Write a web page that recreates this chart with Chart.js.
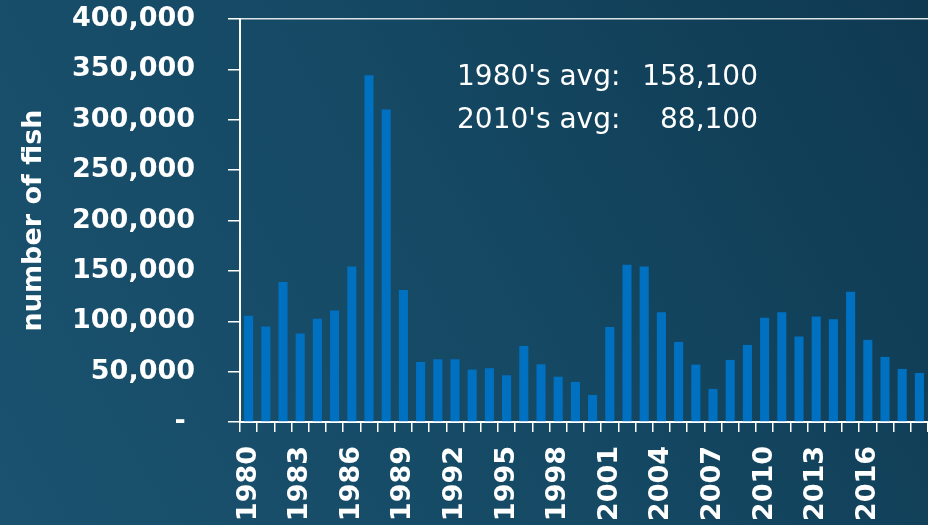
<!DOCTYPE html>
<html>
<head>
<meta charset="utf-8">
<script src="https://cdn.jsdelivr.net/npm/chart.js@4.4.0/dist/chart.umd.min.js"></script>
<style>
  html, body { margin: 0; padding: 0; background: #164a66; }
  canvas { display: block; }
</style>
</head>
<body>
<canvas id="myChart" width="928" height="525"></canvas>
<script>
const years = [
  "1980", "1981", "1982", "1983", "1984", "1985", "1986", "1987", "1988", "1989",
  "1990", "1991", "1992", "1993", "1994", "1995", "1996", "1997", "1998", "1999",
  "2000", "2001", "2002", "2003", "2004", "2005", "2006", "2007", "2008", "2009",
  "2010", "2011", "2012", "2013", "2014", "2015", "2016", "2017", "2018", "2019",
];
const fishCounts = [
  105400, 94700, 139000, 87800, 102400, 110600, 154400, 344200, 310100, 130900,
  59600, 62300, 62300, 52000, 53400, 46400, 75500, 57300, 45000, 39800,
  26800, 94400, 156000, 154400, 109000, 79500, 57000, 32800, 61600, 76500,
  103400, 109000, 84800, 104700, 102100, 129200, 81500, 64600, 52700, 48700,
];
// only these years get a label on the x axis
const labelYears = [
  "1980", "1983", "1986", "1989", "1992", "1995", "1998",
  "2001", "2004", "2007", "2010", "2013", "2016",
];
const avgLabels = ["1980's avg:", "2010's avg:"];
const avgValues = ["158,100", "88,100"];

const white = "#ffffff";

const background = {
  id: "background",
  beforeDraw(chart) {
    const { ctx, width, height } = chart;
    const grad = ctx.createLinearGradient(0, height, width, 0);
    grad.addColorStop(0, "rgb(26, 82, 111)");
    grad.addColorStop(0.5, "rgb(21, 73, 100)");
    grad.addColorStop(1, "rgb(15, 57, 81)");
    ctx.save();
    ctx.fillStyle = grad;
    ctx.fillRect(0, 0, width, height);
    ctx.restore();
  },
};

// averages text in the upper part of the plot
const averages = {
  id: "averages",
  afterDraw(chart) {
    const ctx = chart.ctx;
    ctx.save();
    ctx.fillStyle = white;
    ctx.font = "28px 'DejaVu Sans'";
    ctx.textBaseline = "alphabetic";
    avgLabels.forEach((label, i) => {
      const y = 85 + i * 43;
      ctx.textAlign = "left";
      ctx.fillText(label, 457, y);
      ctx.textAlign = "right";
      ctx.fillText(avgValues[i], 758, y);
    });
    ctx.restore();
  },
};

const ctx = document.getElementById("myChart");

new Chart(ctx, {
  type: "bar",
  data: {
    labels: years,
    datasets: [
      {
        data: fishCounts,
        backgroundColor: "#0070c0",
        borderWidth: 0,
        categoryPercentage: 1,
        barPercentage: 0.53,
      },
    ],
  },
  options: {
    responsive: false,
    animation: false,
    events: [],
    layout: {
      padding: { top: 19, right: 0, bottom: 0, left: 0 },
    },
    plugins: {
      legend: { display: false },
      tooltip: { enabled: false },
    },
    scales: {
      x: {
        afterFit(scale) {
          scale.height = 103;
          scale.paddingLeft = 0;
          scale.paddingRight = 0;
        },
        grid: {
          offset: true,
          drawOnChartArea: false,
          tickLength: 10,
          tickColor: white,
          lineWidth: 1.5,
        },
        border: { color: white, width: 2 },
        ticks: {
          autoSkip: false,
          minRotation: 90,
          maxRotation: 90,
          padding: 14,
          color: white,
          font: { family: "'DejaVu Sans'", size: 27, weight: "bold" },
          callback: function (value) {
            const year = this.getLabelForValue(value);
            return labelYears.includes(year) ? year : "";
          },
        },
      },
      y: {
        min: 0,
        max: 400000,
        afterFit(scale) {
          scale.width = 240;
          scale.paddingTop = 0;
          scale.paddingBottom = 0;
        },
        grid: {
          drawOnChartArea: true,
          color: (c) => (c.tick && c.tick.value === 400000 ? "rgba(255,255,255,0.85)" : "transparent"),
          tickColor: white,
          tickLength: 12,
          lineWidth: 1.5,
        },
        border: { color: white, width: 2 },
        ticks: {
          stepSize: 50000,
          padding: 33,
          color: white,
          font: { family: "'DejaVu Sans'", size: 27, weight: "bold" },
          // accounting style: zero shown as a dash
          callback: (value) => (value === 0 ? "- " : value.toLocaleString("en-US")),
        },
        title: {
          display: true,
          text: "number of fish",
          color: white,
          font: { family: "'DejaVu Sans'", size: 27, weight: "bold" },
          padding: { top: 18, bottom: 0 },
        },
      },
    },
  },
  plugins: [background, averages],
});
</script>
</body>
</html>
